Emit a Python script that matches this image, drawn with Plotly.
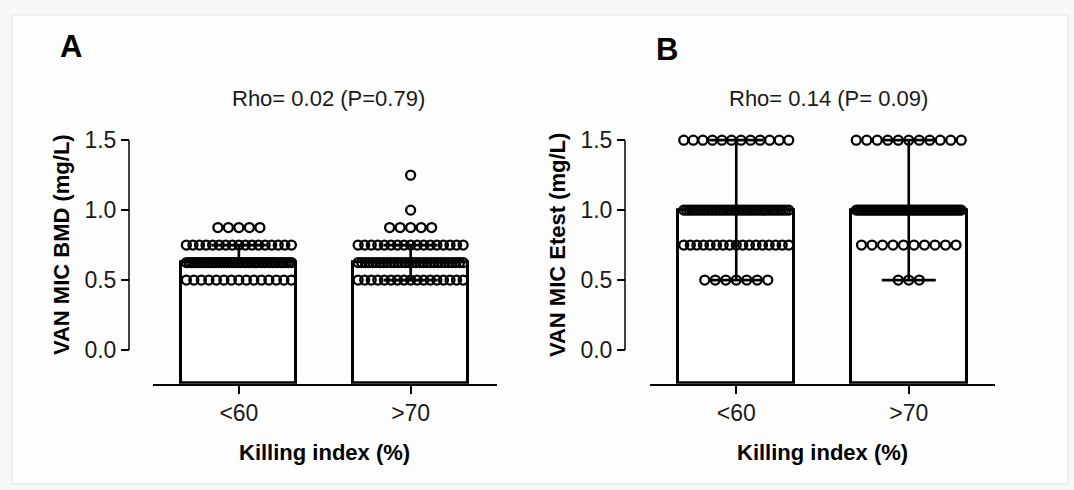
import numpy as np
import plotly.graph_objects as go

# ---------------- data ----------------
categories = ['<60', '>70']

bmd_levels = [0.5, 0.625, 0.75, 0.875, 1.0, 1.25]
bmd_counts_lt60 = [15, 40, 17, 5, 0, 0]
bmd_counts_gt70 = [17, 30, 17, 5, 1, 1]
bmd_median = [0.625, 0.625]
bmd_err_low = [0.625, 0.5]
bmd_err_high = [0.75, 0.75]

etest_levels = [0.5, 0.75, 1.0, 1.5]
etest_counts_lt60 = [7, 17, 40, 12]
etest_counts_gt70 = [3, 10, 50, 11]
etest_median = [1.0, 1.0]
etest_err_low = [0.5, 0.5]
etest_err_high = [1.5, 1.5]

ytick_vals = [0, 0.5, 1.0, 1.5]
ytick_text = ['0.0', '0.5', '1.0', '1.5']

titles = ['Rho= 0.02 (P=0.79)', 'Rho= 0.14 (P= 0.09)']
ytitles = ['VAN MIC BMD (mg/L)', 'VAN MIC Etest (mg/L)']
xtitle = 'Killing index (%)'
panel_letters = ['A', 'B']

# ---------------- geometry (pixels) ----------------
W, H = 1074, 490
FONT = 'Liberation Sans, Arial, sans-serif'
Y0_PX, Y15_PX = 349.2, 138.0
PPU_Y = (Y0_PX - Y15_PX) / 1.5
BOTTOM_PX, TOP_PX = 383.0, 128.0
Y_RANGE = [(Y0_PX - BOTTOM_PX) / PPU_Y, (Y0_PX - TOP_PX) / PPU_Y]
BASE = Y_RANGE[0]

panels = [
    dict(xdom=(153, 496.5), yaxis_x=129, title_x=328, ytitle_x=61, letter=(71, 44)),
    dict(xdom=(650, 995), yaxis_x=625, title_x=828, ytitle_x=557, letter=(667, 47)),
]


def px(x):
    return x / W


def py(y):
    return 1 - y / H


def spread(n, ppu_x, smax=10.5, wmax=105.0):
    if n <= 0:
        return np.array([])
    if n == 1:
        return np.array([0.0])
    s = min(smax, wmax / (n - 1))
    return (np.arange(n) - (n - 1) / 2) * s / ppu_x


fig = go.Figure()

datasets = [
    (bmd_levels, [bmd_counts_lt60, bmd_counts_gt70], bmd_median, bmd_err_low, bmd_err_high),
    (etest_levels, [etest_counts_lt60, etest_counts_gt70], etest_median, etest_err_low, etest_err_high),
]

annotations = []
shapes = []
layout_axes = {}

for i, (p, ds) in enumerate(zip(panels, datasets)):
    levels, counts, med, lo, hi = ds
    xa = 'x' if i == 0 else 'x2'
    ya = 'y' if i == 0 else 'y2'
    ppu_x = (p['xdom'][1] - p['xdom'][0]) / 2.0

    # bars
    fig.add_trace(go.Bar(
        x=[0, 1], y=[m - BASE for m in med], base=BASE, width=0.67,
        marker=dict(color='white', line=dict(color='black', width=3)),
        xaxis=xa, yaxis=ya, showlegend=False, hoverinfo='skip'))

    # points (hollow circles)
    xs, ys = [], []
    for g in range(2):
        for lev, n in zip(levels, counts[g]):
            offs = spread(n, ppu_x)
            xs.extend(list(g + offs))
            ys.extend([lev] * n)
    fig.add_trace(go.Scatter(
        x=xs, y=ys, mode='markers',
        marker=dict(symbol='circle-open', size=9, color='black',
                    line=dict(color='black', width=2.3)),
        xaxis=xa, yaxis=ya, showlegend=False, cliponaxis=False, hoverinfo='skip'))

    # error bars
    fig.add_trace(go.Scatter(
        x=[0, 1], y=med, mode='markers',
        marker=dict(size=1, color='rgba(0,0,0,0)'),
        error_y=dict(type='data', symmetric=False,
                     array=[h - m for h, m in zip(hi, med)],
                     arrayminus=[m - l for m, l in zip(med, lo)],
                     color='black', thickness=2.6, width=27),
        xaxis=xa, yaxis=ya, showlegend=False, cliponaxis=False, hoverinfo='skip'))

    sfx = '' if i == 0 else '2'
    layout_axes['xaxis' + sfx] = dict(
        domain=[px(p['xdom'][0]), px(p['xdom'][1])], range=[-0.5, 1.5],
        anchor=ya, showline=True, linewidth=2, linecolor='black',
        ticks='outside', ticklen=8, tickwidth=1.5, tickcolor='black',
        tickvals=[0, 1], ticktext=categories,
        tickfont=dict(family=FONT, size=23, color='#1a1a1a'),
        showgrid=False, zeroline=False, fixedrange=True)
    layout_axes['yaxis' + sfx] = dict(
        domain=[py(BOTTOM_PX), py(TOP_PX)], range=Y_RANGE,
        anchor='free', position=px(p['yaxis_x']), showline=False,
        ticks='outside', ticklen=8, tickwidth=1.5, tickcolor='black',
        tickvals=ytick_vals, ticktext=ytick_text,
        tickfont=dict(family=FONT, size=23, color='#1a1a1a'),
        showgrid=False, zeroline=False, fixedrange=True)

    shapes.append(dict(type='line', xref='paper', yref=ya,
                       x0=px(p['yaxis_x']), x1=px(p['yaxis_x']),
                       y0=ytick_vals[0], y1=ytick_vals[-1],
                       line=dict(color='black', width=1.5)))

    annotations.append(dict(text=titles[i], x=px(p['title_x']), y=py(96),
                            xref='paper', yref='paper', showarrow=False,
                            xanchor='center', yanchor='middle',
                            font=dict(family=FONT, size=22, color='#1a1a1a')))
    annotations.append(dict(text='<b>' + ytitles[i] + '</b>', x=px(p['ytitle_x']),
                            y=py((Y0_PX + Y15_PX) / 2), xref='paper', yref='paper',
                            showarrow=False, textangle=-90,
                            xanchor='center', yanchor='middle',
                            font=dict(family=FONT, size=22, color='black')))
    annotations.append(dict(text='<b>' + xtitle + '</b>',
                            x=px((p['xdom'][0] + p['xdom'][1]) / 2), y=py(452),
                            xref='paper', yref='paper', showarrow=False,
                            xanchor='center', yanchor='middle',
                            font=dict(family=FONT, size=22, color='black')))
    annotations.append(dict(text='<b>' + panel_letters[i] + '</b>',
                            x=px(p['letter'][0]), y=py(p['letter'][1]),
                            xref='paper', yref='paper', showarrow=False,
                            xanchor='center', yanchor='middle',
                            font=dict(family=FONT, size=31, color='black')))

shapes.insert(0, dict(type='rect', xref='paper', yref='paper', layer='below',
                      x0=px(12), x1=px(1068), y0=py(484), y1=py(12),
                      line=dict(color='#ececec', width=1.5), fillcolor='#fdfdfd'))

fig.update_layout(
    width=W, height=H,
    margin=dict(l=0, r=0, t=0, b=0),
    paper_bgcolor='#f7f7f7', plot_bgcolor='rgba(0,0,0,0)',
    bargap=0, showlegend=False,
    annotations=annotations, shapes=shapes,
    **layout_axes)

fig.write_html('out.html')
